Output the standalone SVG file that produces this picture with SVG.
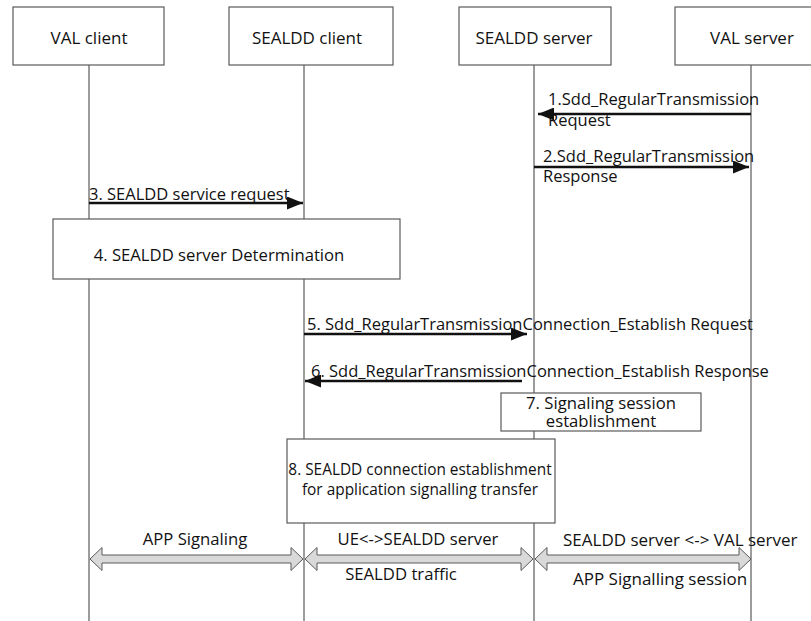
<svg xmlns="http://www.w3.org/2000/svg" width="811" height="621" viewBox="0 0 811 621">
<defs>
<style>
.box{fill:#fff;stroke:#5a5a5a;stroke-width:1.2}
.life{stroke:#5a5a5a;stroke-width:1.2;fill:none}
.msg{stroke:#111;stroke-width:2.6;fill:none;marker-end:url(#ah)}
.dbl{fill:#d9d9d9;stroke:#5a5a5a;stroke-width:1}
text{font-family:"Open Sans","Noto Sans","DejaVu Sans",sans-serif;fill:#111}
.h{font-size:17px;text-anchor:middle}
.t{font-size:16.5px}
.c{font-size:16.7px;text-anchor:middle}
.b{font-size:17px}
.s{font-size:15.4px;text-anchor:middle}
</style>
<marker id="ah" viewBox="0 0 16 13" refX="16" refY="6.5" markerWidth="16" markerHeight="13" markerUnits="userSpaceOnUse" orient="auto">
<path d="M0,0 L16,6.5 L0,13 z" fill="#111"/>
</marker>
</defs>
<rect width="811" height="621" fill="#fff"/>
<g id="connectors">
<line class="life" x1="89" y1="65" x2="89" y2="621"/>
<line class="life" x1="304" y1="65" x2="304" y2="621"/>
<line class="life" x1="534" y1="65" x2="534" y2="621"/>
<line class="life" x1="751" y1="65" x2="751" y2="621"/>
<line class="msg" x1="751" y1="114" x2="538" y2="114"/>
<text class="t" x="548" y="105">1.Sdd_RegularTransmission</text>
<text class="t" x="548" y="126">Request</text>
<line class="msg" x1="534" y1="167" x2="749" y2="167"/>
<text class="t" x="543" y="162">2.Sdd_RegularTransmission</text>
<text class="t" x="543" y="182">Response</text>
<line class="msg" x1="89" y1="203" x2="303" y2="203"/>
<text class="t" x="89" y="200">3. SEALDD service request</text>
<line class="msg" x1="304" y1="334" x2="527" y2="334"/>
<text class="t" x="307" y="330">5. Sdd_RegularTransmissionConnection_Establish Request</text>
<line class="msg" x1="522" y1="381" x2="305" y2="381"/>
<text class="t" x="311" y="377">6. Sdd_RegularTransmissionConnection_Establish Response</text>
<polygon class="dbl" points="90,559 102,547.5 102,555 291,555 291,547.5 303,559 291,570.5 291,563 102,563 102,570.5"/>
<polygon class="dbl" points="305,559 317,547.5 317,555 521,555 521,547.5 533,559 521,570.5 521,563 317,563 317,570.5"/>
<polygon class="dbl" points="535,559 547,547.5 547,555 739,555 739,547.5 751,559 739,570.5 739,563 547,563 547,570.5"/>
<text class="c" x="195" y="545">APP Signaling</text>
<text class="c" x="418" y="545">UE&lt;-&gt;SEALDD server</text>
<text class="b" x="563" y="546">SEALDD server &lt;-&gt; VAL server</text>
<text class="c" x="401" y="580">SEALDD traffic</text>
<text class="b" x="573" y="585">APP Signalling session</text>
</g>
<g id="val-client">
<rect class="box" x="13" y="7" width="151" height="58"/>
<text class="h" x="89" y="44">VAL client</text>
</g>
<g id="sealdd-client">
<rect class="box" x="229" y="7" width="164" height="58"/>
<text class="h" x="307" y="44">SEALDD client</text>
</g>
<g id="sealdd-server">
<rect class="box" x="459" y="7" width="152" height="58"/>
<text class="h" x="534" y="44">SEALDD server</text>
</g>
<g id="val-server">
<rect class="box" x="675" y="7" width="160" height="58"/>
<text class="h" x="752" y="44">VAL server</text>
</g>
<g id="step4">
<rect class="box" x="53" y="219" width="347" height="60"/>
<text class="c" x="219" y="261">4. SEALDD server Determination</text>
</g>
<g id="step7">
<rect class="box" x="501" y="393" width="200" height="38"/>
<text class="c" x="601" y="409">7. Signaling session</text>
<text class="c" x="601" y="427">establishment</text>
</g>
<g id="step8">
<rect class="box" x="287" y="439" width="268" height="84"/>
<text class="s" x="420" y="475">8. SEALDD connection establishment</text>
<text class="s" x="420" y="495">for application signalling transfer</text>
</g>
</svg>
